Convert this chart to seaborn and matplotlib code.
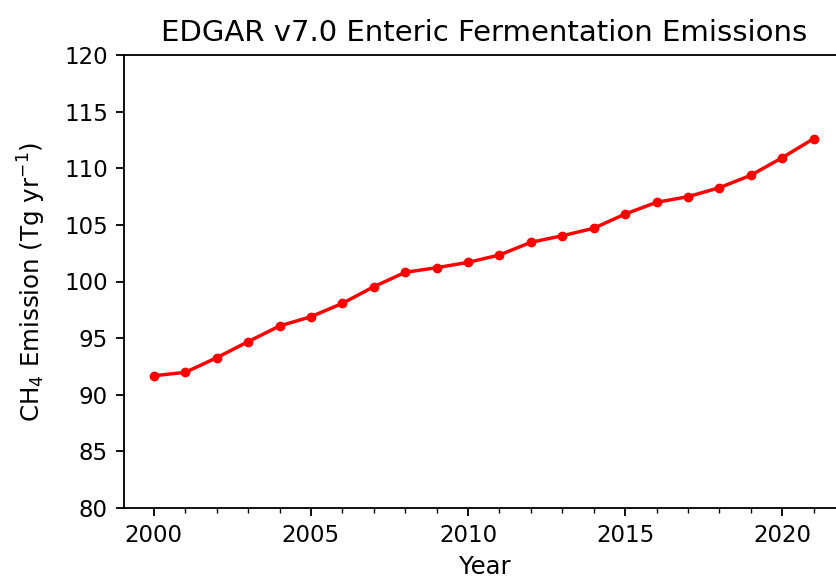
import matplotlib
matplotlib.use("Agg")
import matplotlib.pyplot as plt
import seaborn as sns
import pandas as pd
from matplotlib.ticker import MultipleLocator

years = list(range(2000, 2022))
emissions = [91.68, 91.98, 93.27, 94.69, 96.07, 96.89, 98.07, 99.54, 100.81, 101.22,
             101.69, 102.34, 103.46, 104.04, 104.70, 105.96, 106.99, 107.49, 108.28,
             109.38, 110.93, 112.61]
title = "EDGAR v7.0 Enteric Fermentation Emissions"
xlabel = "Year"
ylabel = r"CH$_4$ Emission (Tg yr$^{-1}$)"

plt.rcParams['font.family'] = ['DejaVu Sans']

df = pd.DataFrame({"Year": years, "Emission": emissions})

DPI = 165
fig = plt.figure(figsize=(836 / DPI, 579 / DPI), dpi=DPI)
ax = fig.add_axes([124/836, 1-508/579, (845-124)/836, (508-55)/579])
sns.lineplot(data=df, x="Year", y="Emission", ax=ax, color="red", marker=".",
             markersize=7, linewidth=1.5, markeredgecolor="red")

ax.set_xlim(1999.05, 2022)
ax.set_ylim(80, 120)
ax.xaxis.set_major_locator(MultipleLocator(5))
ax.xaxis.set_minor_locator(MultipleLocator(1))
ax.yaxis.set_major_locator(MultipleLocator(5))
ax.tick_params(axis='both', which='major', labelsize=10)
ax.set_title(title, fontsize=12.7)
ax.set_xlabel(xlabel, fontsize=10.6, labelpad=3.5)
ax.set_ylabel(ylabel, fontsize=10.7, labelpad=7)

fig.savefig("out.png", dpi=DPI)
